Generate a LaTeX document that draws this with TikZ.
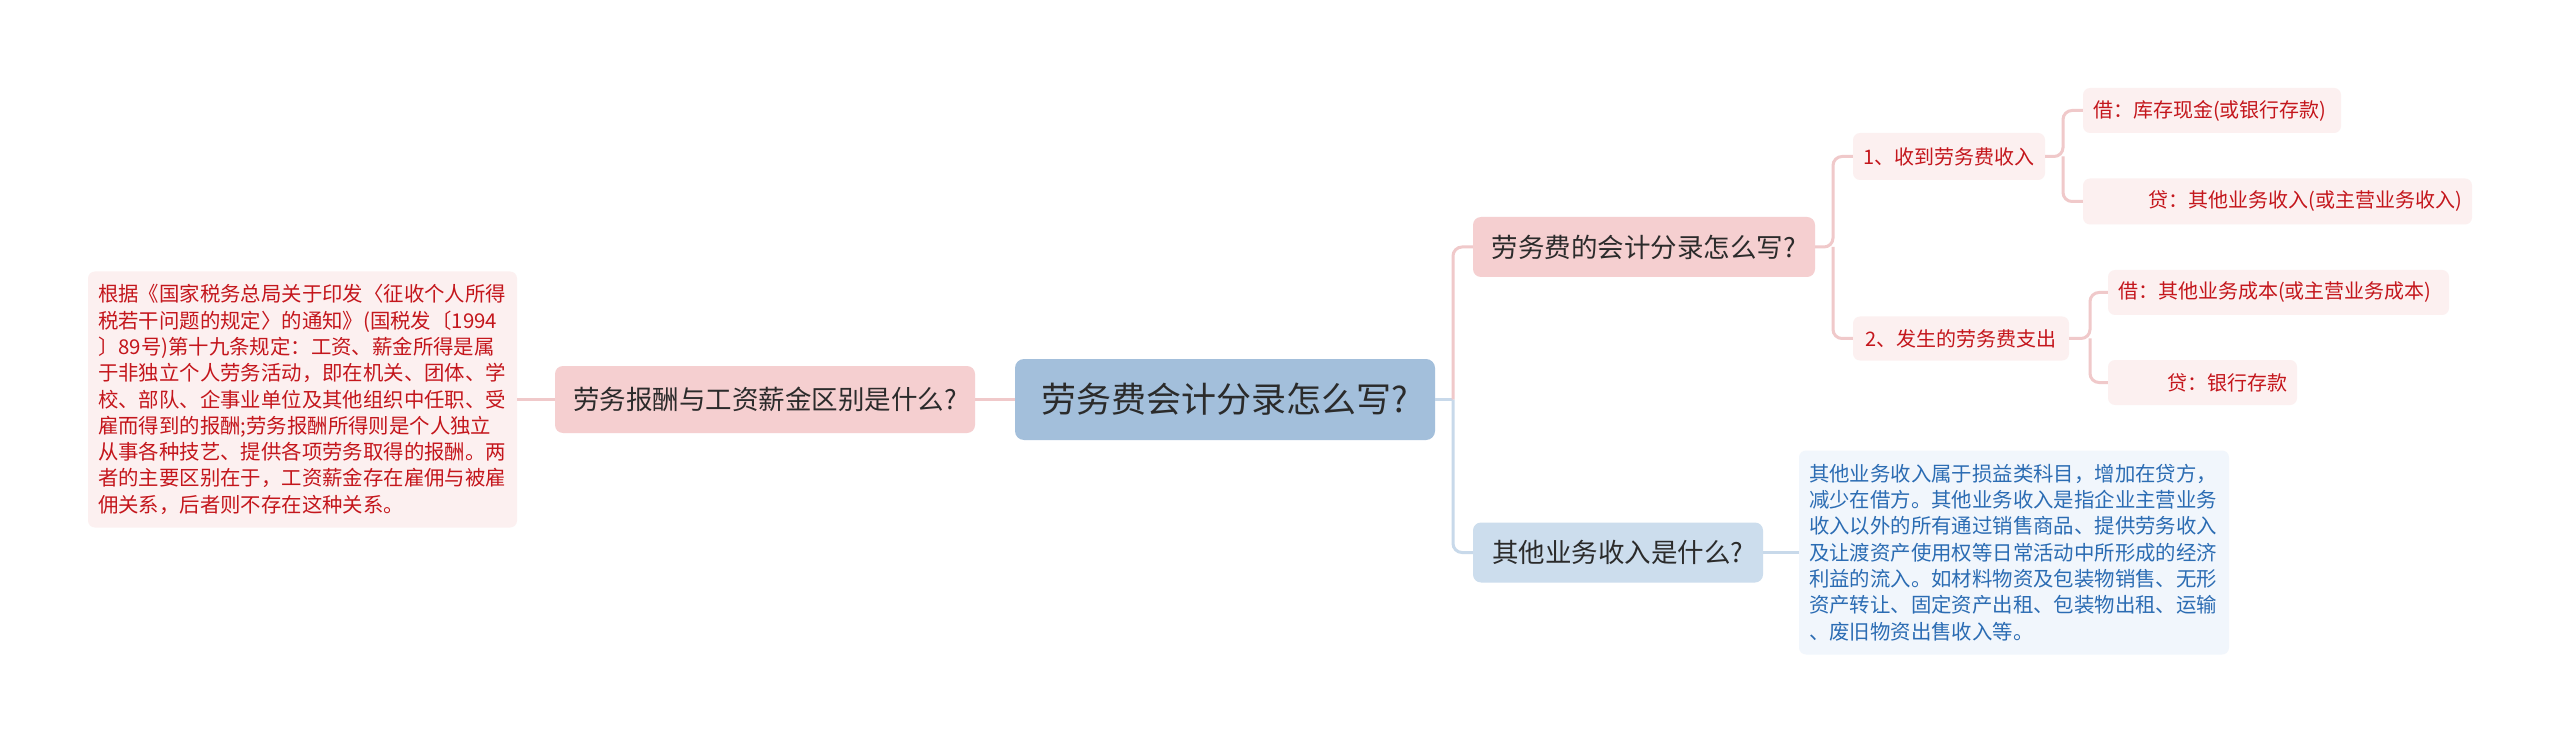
\documentclass[tikz,border=0pt]{standalone}
\usepackage{fontspec}
\setmainfont{Noto Sans CJK SC}
\definecolor{rootfill}{HTML}{A3BFDB}
\definecolor{pinkfill}{HTML}{F5CFD0}
\definecolor{bluefill}{HTML}{CCDDED}
\definecolor{lightpink}{HTML}{FCF0F0}
\definecolor{lightblue}{HTML}{F1F6FC}
\definecolor{redtext}{HTML}{C4161C}
\definecolor{bluetext}{HTML}{2B6CB3}
\definecolor{darktext}{HTML}{2B2B2B}
\definecolor{pinkln}{HTML}{F0C9CA}
\definecolor{blueln}{HTML}{C8D9EA}
\tikzset{
  base/.style={inner sep=0pt, align=center},
  rootbox/.style={base, fill=rootfill, rounded corners=9pt, text=darktext, font=\fontsize{35}{40}\selectfont},
  pinktopic/.style={base, fill=pinkfill, rounded corners=8pt, text=darktext, font=\fontsize{26.5}{32}\selectfont},
  bluetopic/.style={base, fill=bluefill, rounded corners=8pt, text=darktext, font=\fontsize{26.5}{32}\selectfont},
  subbox/.style={base, fill=lightpink, rounded corners=7pt, text=redtext, font=\fontsize{20}{24}\selectfont},
  leafbox/.style={inner xsep=10pt, inner ysep=0pt, fill=lightpink, rounded corners=7pt, text=redtext, font=\fontsize{20}{24}\selectfont},
  notebox/.style={inner xsep=10pt, inner ysep=0pt, align=left, rounded corners=7pt, font=\fontsize{20.4}{26.3}\selectfont},
  pinkline/.style={draw=pinkln, line width=3pt, rounded corners=9pt},
  blueline/.style={draw=blueln, line width=3pt, rounded corners=9pt},
}
\begin{document}
\begin{tikzpicture}[x=1pt,y=1pt]
\useasboundingbox (0,0) rectangle (2560,-743);
\fill[white] (0,0) rectangle (2560,-743);

\node[rootbox, minimum width=420, minimum height=81] (root) at (1225,-399.5) {劳务费会计分录怎么写?};
\node[pinktopic, minimum width=420, minimum height=67] (lt) at (765,-399.5) {劳务报酬与工资薪金区别是什么?};
\node[notebox, fill=lightpink, text=redtext, text width=409, minimum height=256] (lb) at (302.5,-399.5) {根据《国家税务总局关于印发〈征收个人所得\\税若干问题的规定〉的通知》(国税发〔1994\\〕89号)第十九条规定：工资、薪金所得是属\\于非独立个人劳务活动，即在机关、团体、学\\校、部队、企事业单位及其他组织中任职、受\\雇而得到的报酬;劳务报酬所得则是个人独立\\从事各种技艺、提供各项劳务取得的报酬。两\\者的主要区别在于，工资薪金存在雇佣与被雇\\佣关系，后者则不存在这种关系。};

\node[pinktopic, minimum width=342, minimum height=60] (t1) at (1644,-247) {劳务费的会计分录怎么写?};
\node[bluetopic, minimum width=290, minimum height=60] (t2) at (1618,-552.5) {其他业务收入是什么?};
\node[notebox, fill=lightblue, text=bluetext, text width=410, minimum height=204] (bb) at (2014,-552.5) {其他业务收入属于损益类科目，增加在贷方，\\减少在借方。其他业务收入是指企业主营业务\\收入以外的所有通过销售商品、提供劳务收入\\及让渡资产使用权等日常活动中所形成的经济\\利益的流入。如材料物资及包装物销售、无形\\资产转让、固定资产出租、包装物出租、运输\\、废旧物资出售收入等。};

\node[subbox, minimum width=192, minimum height=47] (s1) at (1949,-156.5) {1、收到劳务费收入};
\node[subbox, minimum width=216, minimum height=44] (s2) at (1961,-338.5) {2、发生的劳务费支出};

\node[leafbox, align=left, text width=238, minimum height=45] (l1) at (2212,-110.5) {借：库存现金(或银行存款)};
\node[leafbox, align=right, text width=369, minimum height=46] (l2) at (2277.5,-201.5) {贷：其他业务收入(或主营业务收入)};
\node[leafbox, align=left, text width=321, minimum height=45] (l3) at (2278.5,-292.5) {借：其他业务成本(或主营业务成本)};
\node[leafbox, align=right, text width=169, minimum height=45] (l4) at (2202.5,-382.5) {贷：银行存款};

\coordinate (j0) at (1453,-399.5);
\coordinate (j1) at (1833,-247);
\coordinate (j2) at (2063,-156.5);
\coordinate (j3) at (2090,-338.5);

\draw[pinkline] (root.west) -- (lt.east);
\draw[pinkline] (lt.west) -- (lb.east);
\draw[blueline] (root.east) -- (j0);
\draw[pinkline] (j0) |- (t1.west);
\draw[blueline] (j0) |- (t2.west);
\draw[blueline] (t2.east) -- (bb.west);
\draw[pinkline] (t1.east) -- (j1) |- (s1.west);
\draw[pinkline] (j1) |- (s2.west);
\draw[pinkline] (s1.east) -- (j2) |- (l1.west);
\draw[pinkline] (j2) |- (l2.west);
\draw[pinkline] (s2.east) -- (j3) |- (l3.west);
\draw[pinkline] (j3) |- (l4.west);
\end{tikzpicture}
\end{document}
